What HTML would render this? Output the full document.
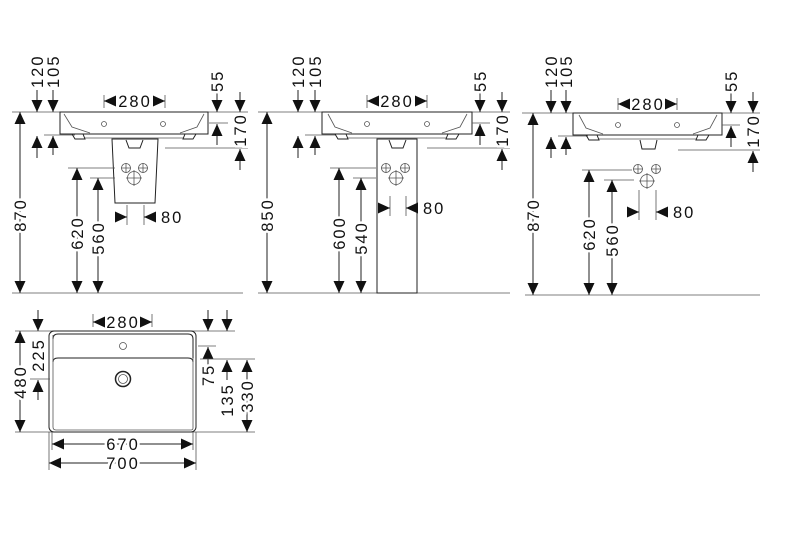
<!DOCTYPE html>
<html><head><meta charset="utf-8"><style>
html,body{margin:0;padding:0;background:#fff}
svg{display:block}
text{font-family:"Liberation Sans",sans-serif;font-size:16.5px;letter-spacing:2px;fill:#111;stroke:#fff;stroke-width:5px;paint-order:stroke;}
.l{stroke:#222;stroke-width:1;fill:none}
.t{stroke:#555;stroke-width:0.8;fill:none}
.d{stroke:#222;stroke-width:1;fill:none;marker-end:url(#a)}
.dd{stroke:#222;stroke-width:1;fill:none;marker-end:url(#a);marker-start:url(#a)}
</style></head><body>
<svg width="800" height="533" viewBox="0 0 800 533" xmlns="http://www.w3.org/2000/svg">
<defs>
<marker id="a" markerUnits="userSpaceOnUse" markerWidth="12" markerHeight="11" refX="12" refY="5.5" orient="auto-start-reverse"><path d="M0,0 L12,5.5 L0,11 z" fill="#111"/></marker>
</defs>

<!-- ============ PANEL 1 ============ -->
<line class="t" x1="12" y1="112" x2="248" y2="112"/>
<line class="t" x1="12" y1="293" x2="243" y2="293"/>
<line class="dd" x1="20" y1="112" x2="20" y2="293"/>
<text transform="translate(26,215) rotate(-90)" text-anchor="middle">870</text>
<line class="d" x1="37" y1="90" x2="37" y2="112"/>
<line class="d" x1="53" y1="90" x2="53" y2="112"/>
<text transform="translate(43,88) rotate(-90)" text-anchor="start">120</text>
<text transform="translate(59,88) rotate(-90)" text-anchor="start">105</text>
<line class="t" x1="44" y1="135" x2="75" y2="135"/>
<line class="d" x1="37" y1="158" x2="37" y2="136"/>
<line class="d" x1="53" y1="155" x2="53" y2="136"/>
<path class="l" d="M60,112 L208,112 L208,134 L60,134 Z"/>
<path class="t" d="M64,114 L72,127 L90,133 M204,114 L197,127 L180,133"/>
<path class="l" d="M72,134 L75,139 L85,139 L83,134 M196,134 L193,139 L183,139 L185,134"/>
<path class="t" d="M85,138 L183,138"/>
<circle class="t" cx="104" cy="124" r="2.5"/><circle class="t" cx="163" cy="124" r="2.5"/>
<line class="t" x1="104" y1="95" x2="104" y2="108"/><line class="t" x1="165" y1="95" x2="165" y2="108"/>
<line class="d" x1="114" y1="101" x2="104" y2="101"/><line class="d" x1="155" y1="101" x2="165" y2="101"/>
<text x="135" y="107" text-anchor="middle" style="stroke:none">280</text>
<path class="l" d="M112,139 L158,139 L155,203 L115,203 Z"/>
<path class="l" d="M126,140 L129,148 L140,148 L143,140"/>
<circle class="t" cx="126" cy="168" r="4.5"/><circle class="t" cx="143" cy="168" r="4.5"/><circle class="t" cx="134" cy="178" r="6.5"/>
<path class="t" d="M121,168h10M126,163v10M138,168h10M143,163v10M126,178h16M134,170v16"/>
<line class="t" x1="68" y1="168" x2="115" y2="168"/>
<line class="t" x1="90" y1="178" x2="115" y2="178"/>
<line class="dd" x1="77" y1="168" x2="77" y2="293"/>
<line class="dd" x1="98" y1="178" x2="98" y2="293"/>
<text transform="translate(83,233) rotate(-90)" text-anchor="middle">620</text>
<text transform="translate(104,238) rotate(-90)" text-anchor="middle">560</text>
<line class="t" x1="127" y1="205" x2="127" y2="225"/><line class="t" x1="144" y1="205" x2="144" y2="225"/>
<line class="d" x1="115" y1="217" x2="127" y2="217"/><line class="d" x1="156" y1="217" x2="144" y2="217"/>
<text x="161" y="223">80</text>
<line class="d" x1="217" y1="92" x2="217" y2="112"/>
<line class="d" x1="240" y1="92" x2="240" y2="112"/>
<text transform="translate(223,92) rotate(-90)" text-anchor="start">55</text>
<line class="t" x1="209" y1="123" x2="228" y2="123"/>
<line class="d" x1="217" y1="145" x2="217" y2="124"/>
<line class="t" x1="165" y1="148" x2="248" y2="148"/>
<line class="d" x1="240" y1="170" x2="240" y2="149"/>
<text transform="translate(246,130) rotate(-90)" text-anchor="middle">170</text>

<!-- ============ PANEL 2 ============ -->
<line class="t" x1="258" y1="112" x2="510" y2="112"/>
<line class="t" x1="258" y1="293" x2="510" y2="293"/>
<line class="dd" x1="267" y1="112" x2="267" y2="293"/>
<text transform="translate(273,215) rotate(-90)" text-anchor="middle">850</text>
<line class="d" x1="298" y1="90" x2="298" y2="112"/>
<line class="d" x1="315" y1="90" x2="315" y2="112"/>
<text transform="translate(304,88) rotate(-90)" text-anchor="start">120</text>
<text transform="translate(321,88) rotate(-90)" text-anchor="start">105</text>
<line class="t" x1="305" y1="135" x2="336" y2="135"/>
<line class="d" x1="298" y1="158" x2="298" y2="136"/>
<line class="d" x1="315" y1="155" x2="315" y2="136"/>
<path class="l" d="M322,112 L472,112 L472,134 L322,134 Z"/>
<path class="t" d="M328,114 L335,127 L352,133 M467,114 L460,127 L442,133"/>
<path class="l" d="M335,134 L338,139 L348,139 L346,134 M459,134 L456,139 L446,139 L448,134"/>
<path class="t" d="M348,138 L446,138"/>
<circle class="t" cx="367" cy="124" r="2.5"/><circle class="t" cx="427" cy="124" r="2.5"/>
<line class="t" x1="367" y1="95" x2="367" y2="108"/><line class="t" x1="427" y1="95" x2="427" y2="108"/>
<line class="d" x1="377" y1="101" x2="367" y2="101"/><line class="d" x1="417" y1="101" x2="427" y2="101"/>
<text x="397" y="107" text-anchor="middle" style="stroke:none">280</text>
<path class="l" d="M377,139 L417,139 L417,293 L377,293 Z"/>
<path class="l" d="M389,140 L392,148 L403,148 L406,140"/>
<circle class="t" cx="386" cy="168" r="4.5"/><circle class="t" cx="405" cy="168" r="4.5"/><circle class="t" cx="396" cy="178" r="6.5"/>
<path class="t" d="M381,168h10M386,163v10M400,168h10M405,163v10M388,178h16M396,170v16"/>
<line class="t" x1="330" y1="168" x2="376" y2="168"/>
<line class="t" x1="353" y1="178" x2="376" y2="178"/>
<line class="dd" x1="339" y1="168" x2="339" y2="293"/>
<line class="dd" x1="361" y1="178" x2="361" y2="293"/>
<text transform="translate(345,233) rotate(-90)" text-anchor="middle">600</text>
<text transform="translate(367,238) rotate(-90)" text-anchor="middle">540</text>
<line class="t" x1="390" y1="196" x2="390" y2="216"/><line class="t" x1="406" y1="196" x2="406" y2="216"/>
<line class="d" x1="378" y1="208" x2="390" y2="208"/><line class="d" x1="418" y1="208" x2="406" y2="208"/>
<text x="423" y="214">80</text>
<line class="d" x1="480" y1="92" x2="480" y2="112"/>
<line class="d" x1="502" y1="92" x2="502" y2="112"/>
<text transform="translate(486,92) rotate(-90)" text-anchor="start">55</text>
<line class="t" x1="472" y1="123" x2="490" y2="123"/>
<line class="d" x1="480" y1="145" x2="480" y2="124"/>
<line class="t" x1="427" y1="148" x2="510" y2="148"/>
<line class="d" x1="502" y1="170" x2="502" y2="149"/>
<text transform="translate(508,130) rotate(-90)" text-anchor="middle">170</text>

<!-- ============ PANEL 3 ============ -->
<line class="t" x1="522" y1="113" x2="760" y2="113"/>
<line class="t" x1="525" y1="295" x2="760" y2="295"/>
<line class="dd" x1="533" y1="113" x2="533" y2="295"/>
<text transform="translate(539,215) rotate(-90)" text-anchor="middle">870</text>
<line class="d" x1="551" y1="90" x2="551" y2="113"/>
<line class="d" x1="566" y1="90" x2="566" y2="113"/>
<text transform="translate(557,88) rotate(-90)" text-anchor="start">120</text>
<text transform="translate(572,88) rotate(-90)" text-anchor="start">105</text>
<line class="t" x1="558" y1="136" x2="588" y2="136"/>
<line class="d" x1="551" y1="158" x2="551" y2="137"/>
<line class="d" x1="566" y1="155" x2="566" y2="137"/>
<path class="l" d="M573,113 L722,113 L722,135 L573,135 Z"/>
<path class="t" d="M579,115 L586,128 L603,134 M717,115 L710,128 L693,134"/>
<path class="l" d="M586,135 L589,140 L599,140 L597,135 M709,135 L706,140 L696,140 L698,135"/>
<path class="t" d="M599,139 L696,139"/>
<circle class="t" cx="618" cy="125" r="2.5"/><circle class="t" cx="677" cy="125" r="2.5"/>
<path class="l" d="M640,140 L642,149 L655,149 L657,140"/>
<line class="t" x1="618" y1="98" x2="618" y2="110"/><line class="t" x1="677" y1="98" x2="677" y2="110"/>
<line class="d" x1="628" y1="104" x2="618" y2="104"/><line class="d" x1="667" y1="104" x2="677" y2="104"/>
<text x="648" y="110" text-anchor="middle" style="stroke:none">280</text>
<circle class="t" cx="638" cy="169" r="4.5"/><circle class="t" cx="656" cy="169" r="4.5"/><circle class="t" cx="647" cy="181" r="6.5"/>
<path class="t" d="M633,169h10M638,164v10M651,169h10M656,164v10M639,181h16M647,173v16"/>
<line class="t" x1="582" y1="170" x2="632" y2="170"/>
<line class="t" x1="604" y1="180" x2="634" y2="180"/>
<line class="dd" x1="589" y1="170" x2="589" y2="295"/>
<line class="dd" x1="612" y1="180" x2="612" y2="295"/>
<text transform="translate(595,234) rotate(-90)" text-anchor="middle">620</text>
<text transform="translate(618,240) rotate(-90)" text-anchor="middle">560</text>
<line class="t" x1="639" y1="190" x2="639" y2="220"/><line class="t" x1="656" y1="190" x2="656" y2="220"/>
<line class="d" x1="627" y1="212" x2="639" y2="212"/><line class="d" x1="668" y1="212" x2="656" y2="212"/>
<text x="673" y="218">80</text>
<line class="d" x1="731" y1="92" x2="731" y2="113"/>
<line class="d" x1="753" y1="92" x2="753" y2="113"/>
<text transform="translate(737,92) rotate(-90)" text-anchor="start">55</text>
<line class="t" x1="722" y1="125" x2="740" y2="125"/>
<line class="d" x1="731" y1="147" x2="731" y2="126"/>
<line class="t" x1="678" y1="150" x2="760" y2="150"/>
<line class="d" x1="753" y1="172" x2="753" y2="151"/>
<text transform="translate(759,131) rotate(-90)" text-anchor="middle">170</text>

<!-- ============ TOP VIEW ============ -->
<line class="t" x1="15" y1="331" x2="235" y2="331"/>
<line class="t" x1="15" y1="432" x2="255" y2="432"/>
<rect class="l" x="49" y="331" width="147" height="101" rx="5"/>
<path class="l" d="M53,339 Q53,334 58,334 L188,334 Q193,334 193,339 L193,358"/>
<path class="l" d="M53,362 Q53,358 58,358 L188,358 Q193,358 193,362"/>
<path class="t" d="M53,358 L53,335 M193,358 L193,428 Q193,430 191,430 L56,430 Q53,430 53,427 L53,358"/>
<circle class="t" cx="123" cy="346" r="3.5"/>
<circle class="l" cx="123" cy="379" r="7.5" style="stroke-width:1.5"/>
<circle class="t" cx="123" cy="379" r="4.5"/>
<line class="dd" x1="20" y1="331" x2="20" y2="432"/>
<text transform="translate(26,382) rotate(-90)" text-anchor="middle">480</text>
<line class="d" x1="38" y1="310" x2="38" y2="331"/>
<line class="t" x1="30" y1="379" x2="50" y2="379"/>
<line class="d" x1="38" y1="400" x2="38" y2="380"/>
<text transform="translate(44,355) rotate(-90)" text-anchor="middle">225</text>
<line class="t" x1="93" y1="314" x2="93" y2="327"/><line class="t" x1="152" y1="314" x2="152" y2="327"/>
<line class="d" x1="103" y1="322" x2="93" y2="322"/>
<line class="d" x1="142" y1="322" x2="152" y2="322"/>
<text x="123" y="328" text-anchor="middle" style="stroke:none">280</text>
<line class="d" x1="208" y1="310" x2="208" y2="331"/>
<line class="d" x1="227" y1="310" x2="227" y2="331"/>
<line class="t" x1="198" y1="346" x2="216" y2="346"/>
<line class="d" x1="208" y1="368" x2="208" y2="347"/>
<text transform="translate(214,375) rotate(-90)" text-anchor="middle">75</text>
<line class="t" x1="200" y1="359" x2="255" y2="359"/>
<line class="d" x1="227" y1="380" x2="227" y2="360"/>
<text transform="translate(233,400) rotate(-90)" text-anchor="middle">135</text>
<line class="dd" x1="247" y1="360" x2="247" y2="432"/>
<text transform="translate(253,396) rotate(-90)" text-anchor="middle">330</text>
<line class="t" x1="49" y1="432" x2="49" y2="470"/><line class="t" x1="196" y1="432" x2="196" y2="470"/>
<line class="t" x1="52" y1="432" x2="52" y2="450"/><line class="t" x1="193" y1="432" x2="193" y2="450"/>
<line class="dd" x1="52" y1="444" x2="193" y2="444"/>
<text x="123" y="450" text-anchor="middle">670</text>
<line class="dd" x1="49" y1="463" x2="196" y2="463"/>
<text x="123" y="469" text-anchor="middle">700</text>
</svg>
</body></html>
